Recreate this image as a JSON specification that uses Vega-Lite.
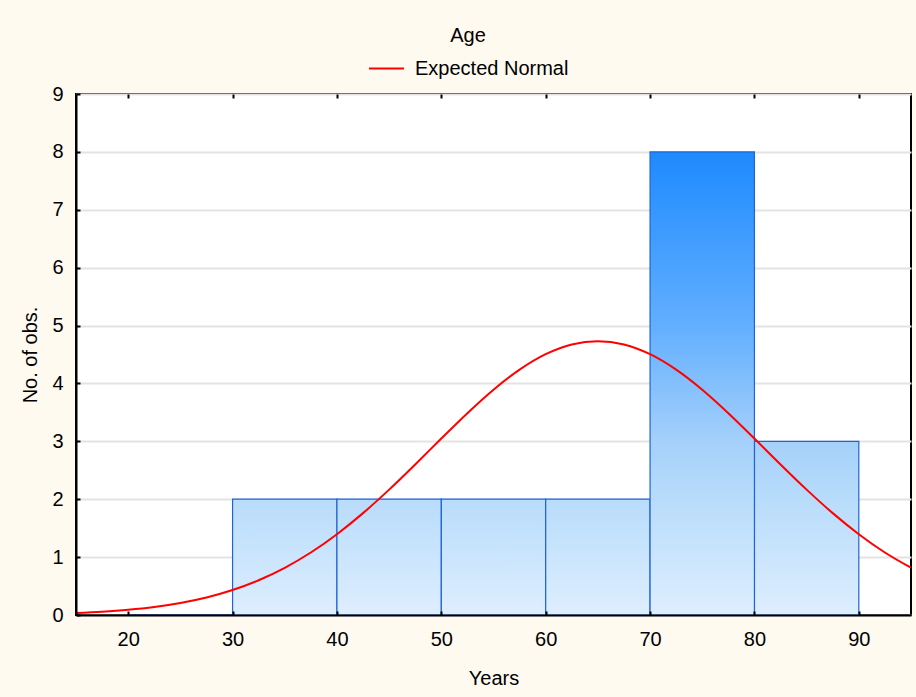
{
  "$schema": "https://vega.github.io/schema/vega-lite/v6.json",
  "width": 835,
  "height": 521,
  "autosize": {"type": "none"},
  "padding": {"left": 76, "top": 94, "right": 5, "bottom": 82},
  "background": "#FFFAF0",
  "config": {
    "font": "Liberation Sans",
    "view": {"stroke": "black", "strokeWidth": 2, "fill": "white"},
    "axis": {"labelColor": "black", "titleColor": "black", "labelFontSize": 20, "titleFontSize": 20, "titleFontWeight": "normal", "labelFlush": false}
  },
  "datasets": {
    "bins": [
      {"start": 20, "end": 30, "count": 0},
      {"start": 30, "end": 40, "count": 2},
      {"start": 40, "end": 50, "count": 2},
      {"start": 50, "end": 60, "count": 2},
      {"start": 60, "end": 70, "count": 2},
      {"start": 70, "end": 80, "count": 8},
      {"start": 80, "end": 90, "count": 3}
    ],
    "curve": [
      {"age": 15, "obs": 0.036}, {"age": 17.5, "obs": 0.058}, {"age": 20, "obs": 0.091},
      {"age": 22.5, "obs": 0.139}, {"age": 25, "obs": 0.208}, {"age": 27.5, "obs": 0.303},
      {"age": 30, "obs": 0.432}, {"age": 32.5, "obs": 0.601}, {"age": 35, "obs": 0.816},
      {"age": 37.5, "obs": 1.080}, {"age": 40, "obs": 1.396}, {"age": 42.5, "obs": 1.760},
      {"age": 45, "obs": 2.166}, {"age": 47.5, "obs": 2.601}, {"age": 50, "obs": 3.048},
      {"age": 52.5, "obs": 3.486}, {"age": 55, "obs": 3.891}, {"age": 57.5, "obs": 4.238},
      {"age": 60, "obs": 4.505}, {"age": 62.5, "obs": 4.673}, {"age": 65, "obs": 4.730},
      {"age": 67.5, "obs": 4.673}, {"age": 70, "obs": 4.505}, {"age": 72.5, "obs": 4.238},
      {"age": 75, "obs": 3.891}, {"age": 77.5, "obs": 3.486}, {"age": 80, "obs": 3.048},
      {"age": 82.5, "obs": 2.601}, {"age": 85, "obs": 2.166}, {"age": 87.5, "obs": 1.760},
      {"age": 90, "obs": 1.396}, {"age": 92.5, "obs": 1.080}, {"age": 95, "obs": 0.816}
    ]
  },
  "resolve": {"axis": {"x": "independent", "y": "independent"}},
  "layer": [
    {
      "data": {"name": "bins"},
      "encoding": {
        "x": {"field": "start", "type": "quantitative",
          "scale": {"domain": [15, 95], "nice": false, "zero": false},
          "axis": {"orient": "top", "values": [20, 30, 40, 50, 60, 70, 80, 90], "title": null, "labels": false, "domain": false, "grid": false, "ticks": true, "tickColor": "black", "tickWidth": 2, "tickSize": -4, "zindex": 0}},
        "x2": {"field": "end"},
        "y": {"field": "count", "type": "quantitative",
          "scale": {"domain": [0, 9], "nice": false},
          "axis": {"orient": "right", "values": [0, 1, 2, 3, 4, 5, 6, 7, 8, 9], "title": null, "labels": false, "domain": false, "ticks": false, "grid": true, "gridColor": "#E3E3E3", "gridWidth": 2, "zindex": 0}},
        "y2": {"datum": 0}
      },
      "layer": [
        {
          "transform": [{"filter": "datum.count <= 2"}],
          "mark": {"type": "bar", "stroke": "#1F63D9", "strokeWidth": 1.2,
            "fill": {"gradient": "linear", "x1": 0, "y1": 0, "x2": 0, "y2": 1, "stops": [{"offset": 0, "color": "#B8DCFB"}, {"offset": 1, "color": "#DEEEFE"}]}}
        },
        {
          "transform": [{"filter": "datum.count == 3"}],
          "mark": {"type": "bar", "stroke": "#1F63D9", "strokeWidth": 1.2,
            "fill": {"gradient": "linear", "x1": 0, "y1": 0, "x2": 0, "y2": 1, "stops": [{"offset": 0, "color": "#A5D0FA"}, {"offset": 0.333, "color": "#B8DCFB"}, {"offset": 1, "color": "#DEEEFE"}]}}
        },
        {
          "transform": [{"filter": "datum.count == 8"}],
          "mark": {"type": "bar", "stroke": "#1F63D9", "strokeWidth": 1.2,
            "fill": {"gradient": "linear", "x1": 0, "y1": 0, "x2": 0, "y2": 1, "stops": [{"offset": 0, "color": "#1E8AFF"}, {"offset": 0.375, "color": "#62AFFF"}, {"offset": 0.625, "color": "#A5D0FA"}, {"offset": 0.75, "color": "#B8DCFB"}, {"offset": 1, "color": "#DEEEFE"}]}}
        }
      ]
    },
    {
      "data": {"name": "curve"},
      "mark": {"type": "line", "strokeWidth": 2, "interpolate": "monotone", "clip": true},
      "encoding": {
        "x": {"field": "age", "type": "quantitative", "title": "Years",
          "scale": {"domain": [15, 95], "nice": false, "zero": false},
          "axis": {"values": [20, 30, 40, 50, 60, 70, 80, 90], "grid": false, "domainColor": "black", "domainWidth": 2, "tickColor": "black", "tickWidth": 2, "tickSize": -4, "labelPadding": 18, "titlePadding": 19, "zindex": 1}},
        "y": {"field": "obs", "type": "quantitative", "title": "No. of obs.",
          "scale": {"domain": [0, 9], "nice": false},
          "axis": {"values": [0, 1, 2, 3, 4, 5, 6, 7, 8, 9], "grid": false, "domainColor": "black", "domainWidth": 2, "tickColor": "black", "tickWidth": 2, "tickSize": -4, "labelPadding": 17, "titlePadding": 11, "zindex": 1}},
        "color": {"datum": "Expected Normal", "type": "nominal",
          "scale": {"range": ["#FF0000"]},
          "legend": {"title": "Age", "titleFontSize": 20, "titleFontWeight": "normal", "titleColor": "black", "titleAnchor": "middle", "titlePadding": 4, "orient": "none", "legendX": 292, "legendY": -68, "padding": 0, "symbolType": "stroke", "symbolSize": 1225, "symbolStrokeWidth": 2, "labelFontSize": 20, "labelOffset": 10, "labelColor": "black"}}
      }
    }
  ]
}
